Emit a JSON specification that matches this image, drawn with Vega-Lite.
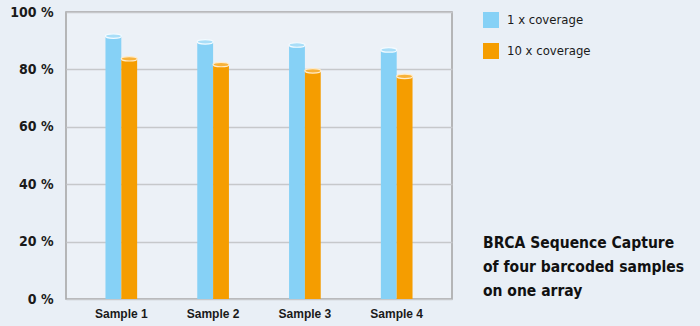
{
  "$schema": "https://vega.github.io/schema/vega-lite/v6.json",
  "autosize": "none",
  "width": 386,
  "height": 287,
  "padding": {"left": 66, "top": 12, "right": 248, "bottom": 27},
  "background": "#e9eff6",
  "config": {
    "view": {"stroke": "#a3a3a3", "strokeWidth": 1.5, "fill": "#ecf1f7"},
    "font": "DejaVu Sans Condensed"
  },
  "title": {
    "text": ["BRCA Sequence Capture", "of four barcoded samples", "on one array"],
    "orient": "bottom",
    "anchor": "start",
    "frame": "group",
    "align": "left",
    "baseline": "top",
    "dx": 417,
    "dy": -87,
    "fontSize": 15.5,
    "fontWeight": "bold",
    "font": "DejaVu Sans Condensed",
    "color": "#111111",
    "lineHeight": 24
  },
  "data": {
    "values": [
      {"sample": "Sample 1", "series": "1 x coverage", "value": 91.6},
      {"sample": "Sample 1", "series": "10 x coverage", "value": 83.7},
      {"sample": "Sample 2", "series": "1 x coverage", "value": 89.6},
      {"sample": "Sample 2", "series": "10 x coverage", "value": 81.7},
      {"sample": "Sample 3", "series": "1 x coverage", "value": 88.5},
      {"sample": "Sample 3", "series": "10 x coverage", "value": 79.5},
      {"sample": "Sample 4", "series": "1 x coverage", "value": 86.8},
      {"sample": "Sample 4", "series": "10 x coverage", "value": 77.6}
    ]
  },
  "encoding": {
    "x": {
      "field": "sample",
      "type": "nominal",
      "scale": {"paddingInner": 0.655, "paddingOuter": 0.43},
      "axis": {
        "title": null,
        "labelAngle": 0,
        "ticks": false,
        "domain": false,
        "labelPadding": 9,
        "labelFont": "Liberation Sans",
        "labelFontWeight": "bold",
        "labelFontSize": 12,
        "labelColor": "#1a1a1a"
      }
    },
    "xOffset": {"field": "series", "type": "nominal", "sort": ["1 x coverage", "10 x coverage"]},
    "y": {
      "field": "value",
      "type": "quantitative",
      "scale": {"domain": [0, 100]},
      "axis": {
        "title": null,
        "values": [0, 20, 40, 60, 80, 100],
        "labelExpr": "datum.value + ' %'",
        "ticks": false,
        "domain": false,
        "gridColor": "#c6c8cb",
        "gridWidth": 1.5,
        "labelPadding": 13,
        "labelFont": "DejaVu Sans Condensed",
        "labelFontWeight": "bold",
        "labelFontSize": 14,
        "labelColor": "#1a1a1a"
      }
    }
  },
  "layer": [
    {
      "mark": {"type": "bar", "opacity": 1},
      "encoding": {
        "color": {
          "field": "series",
          "type": "nominal",
          "sort": ["1 x coverage", "10 x coverage"],
          "scale": {"range": ["#86d1f6", "#f59d00"]},
          "legend": {
            "title": null,
            "orient": "right",
            "offset": 31,
            "padding": 0,
            "symbolType": "square",
            "symbolSize": 256,
            "symbolStrokeWidth": 0,
            "symbolOpacity": 1,
            "labelFontSize": 13,
            "labelFont": "DejaVu Sans Condensed",
            "labelColor": "#1a1a1a",
            "labelOffset": 8,
            "rowPadding": 15
          }
        }
      }
    },
    {
      "mark": {
        "type": "point",
        "shape": "M -1 0 A 1 0.28 0 1 0 1 0 A 1 0.28 0 1 0 -1 0 Z",
        "size": 256,
        "filled": true,
        "opacity": 1,
        "strokeWidth": 1.2
      },
      "encoding": {
        "fill": {
          "field": "series",
          "type": "nominal",
          "sort": ["1 x coverage", "10 x coverage"],
          "scale": {"range": ["#a9def8", "#f8b23a"]},
          "legend": null
        },
        "stroke": {
          "field": "series",
          "type": "nominal",
          "sort": ["1 x coverage", "10 x coverage"],
          "scale": {"range": ["#f4fbff", "#ffeccc"]},
          "legend": null
        }
      }
    }
  ]
}
